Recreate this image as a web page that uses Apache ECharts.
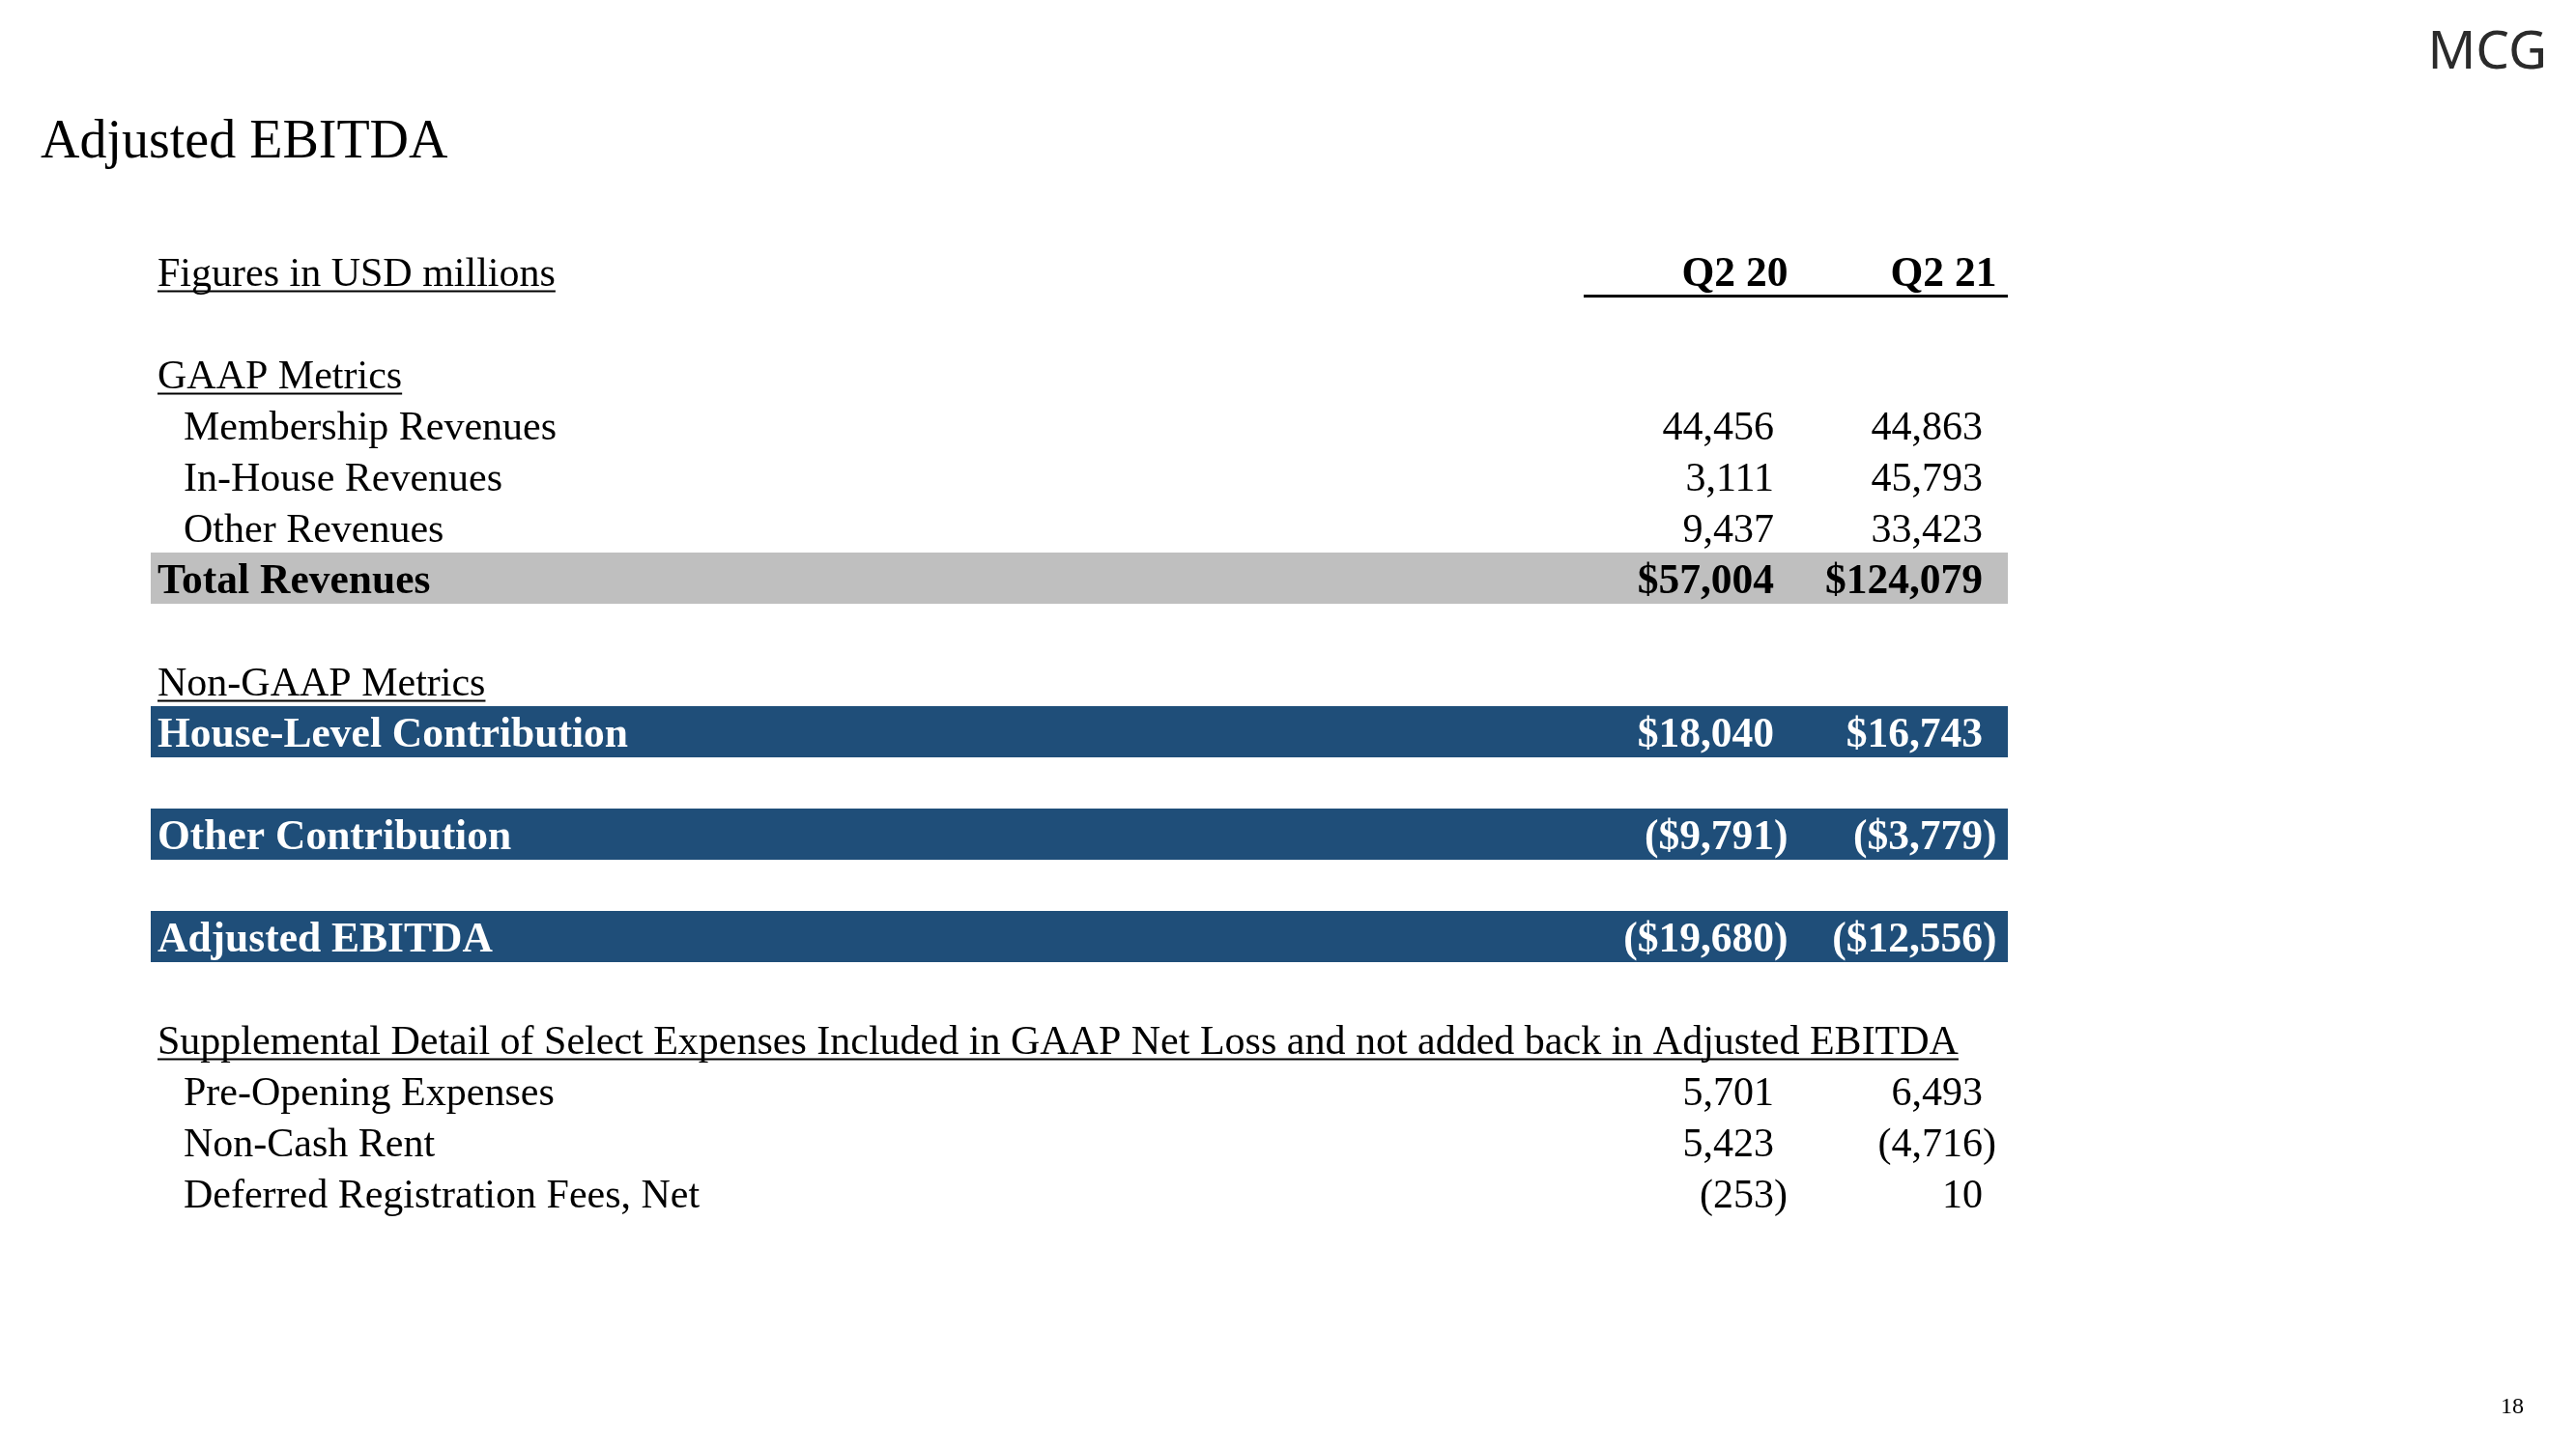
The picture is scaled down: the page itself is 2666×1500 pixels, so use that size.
<!DOCTYPE html>
<html>
<head>
<meta charset="utf-8">
<script src="https://cdn.jsdelivr.net/npm/echarts/dist/echarts.min.js"></script>
<style>
html,body{margin:0;padding:0;background:#ffffff;}
#chart{width:2666px;height:1500px;}
</style>
</head>
<body>
<div id="chart"></div>
<script>
// ---------------- DATA ----------------
const titleText = 'Adjusted EBITDA';
const logoText = 'MCG';
const pageNumber = '18';
const columnHeaders = ['Q2 20', 'Q2 21'];
const rowLabels = [
  'Figures in USD millions',
  '',
  'GAAP Metrics',
  'Membership Revenues',
  'In-House Revenues',
  'Other Revenues',
  'Total Revenues',
  '',
  'Non-GAAP Metrics',
  'House-Level Contribution',
  '',
  'Other Contribution',
  '',
  'Adjusted EBITDA',
  '',
  'Supplemental Detail of Select Expenses Included in GAAP Net Loss and not added back in Adjusted EBITDA',
  'Pre-Opening Expenses',
  'Non-Cash Rent',
  'Deferred Registration Fees, Net',
  ''
];
// semantic row kinds
const rowTypes = [
  'header', 'blank', 'section', 'item', 'item', 'item', 'total', 'blank', 'section', 'key',
  'blank', 'key', 'blank', 'key', 'blank', 'section', 'item', 'item', 'item', 'blank'
];
const q220Values = [null, null, null, 44456, 3111, 9437, 57004, null, null, 18040, null, -9791, null, -19680, null, null, 5701, 5423, -253, null];
const q221Values = [null, null, null, 44863, 45793, 33423, 124079, null, null, 16743, null, -3779, null, -12556, null, null, 6493, -4716, 10, null];

// ---------------- LAYOUT / STYLE ----------------
const FONT = 'Liberation Serif';
const FS = 42;
const FS_BOLD = 43.5;
const TEXT_DY = 4;
const LABEL_X = 163;
const INDENT_X = 190;
const COL_RIGHT = [1836, 2052];
const BAND_L = 156;
const BAND_R = 2078;
const HDR_LINE_L = 1639;
const GREY = '#BFBFBF';
const BLUE = '#1F4E79';

const mctx = document.createElement('canvas').getContext('2d');
function textWidth(t, bold) {
  mctx.font = (bold ? 'bold ' : '') + (bold ? FS_BOLD : FS) + 'px "' + FONT + '"';
  return mctx.measureText(t).width;
}
function fmt(v, dollar) {
  const s = (dollar ? '$' : '') + Math.abs(v).toLocaleString('en-US');
  return v < 0 ? '(' + s + ')' : s;
}
function txt(text, x, y, opt) {
  return {
    type: 'text',
    style: {
      text: text, x: x, y: y + TEXT_DY,
      fill: opt.fill || '#000000',
      fontSize: opt.bold ? FS_BOLD : FS,
      fontFamily: FONT,
      fontWeight: opt.bold ? 'bold' : 'normal',
      align: opt.align || 'left',
      verticalAlign: 'middle'
    }
  };
}

const chart = echarts.init(document.getElementById('chart'), null, {renderer: 'canvas'});

function renderItem(params, api) {
  const i = params.dataIndex;
  const type = rowTypes[i];
  const cy = api.coord([0, i])[1];
  const h = api.size([0, 1])[1];
  const X = v => api.coord([v, i])[0];
  const children = [];
  if (type === 'blank') return {type: 'group', children: []};

  const bold = (type === 'total' || type === 'key');
  const fill = type === 'key' ? '#FFFFFF' : '#000000';

  if (type === 'total' || type === 'key') {
    children.push({
      type: 'rect',
      shape: {x: X(BAND_L), y: cy - h / 2, width: X(BAND_R) - X(BAND_L), height: h},
      style: {fill: type === 'total' ? GREY : BLUE}
    });
  }

  const lx = type === 'item' ? X(INDENT_X) : X(LABEL_X);
  children.push(txt(rowLabels[i], lx, cy, {bold: bold, fill: fill}));

  if (type === 'header' || type === 'section') {
    const w = textWidth(rowLabels[i], false);
    children.push({
      type: 'line',
      shape: {x1: lx, y1: cy + 21, x2: lx + w, y2: cy + 21},
      style: {stroke: '#000000', lineWidth: 2}
    });
  }

  const parenW = textWidth(')', bold);
  if (type === 'header') {
    columnHeaders.forEach((hd, k) => {
      children.push(txt(hd, X(COL_RIGHT[k]) + textWidth(')', true), cy, {bold: true, align: 'right'}));
    });
    children.push({
      type: 'line',
      shape: {x1: X(HDR_LINE_L), y1: cy + 26, x2: X(BAND_R), y2: cy + 26},
      style: {stroke: '#000000', lineWidth: 3}
    });
  }

  const vals = [q220Values[i], q221Values[i]];
  const dollar = (type === 'total' || type === 'key');
  vals.forEach((v, k) => {
    if (v === null || v === undefined) return;
    const rx = X(COL_RIGHT[k]) + (v < 0 ? parenW : 0);
    children.push(txt(fmt(v, dollar), rx, cy, {bold: bold, fill: fill, align: 'right'}));
  });

  return {type: 'group', children: children};
}

const option = {
  backgroundColor: '#ffffff',
  animation: false,
  title: {
    text: titleText,
    left: 42,
    top: 120,
    padding: 0,
    textStyle: {fontFamily: FONT, fontSize: 56, fontWeight: 'normal', color: '#000000', lineHeight: 56}
  },
  grid: {left: 0, right: 0, top: 254, height: 53 * rowLabels.length},
  xAxis: {type: 'value', min: 0, max: 2666, show: false},
  yAxis: {type: 'category', data: rowLabels.map((_, i) => String(i)), inverse: true, show: false},
  graphic: [
    {
      type: 'text',
      style: {
        text: logoText, x: 2636, y: 55,
        fill: '#2b2b2b', fontSize: 55, fontFamily: 'Noto Sans', fontWeight: 'normal',
        align: 'right', verticalAlign: 'middle'
      }
    },
    {
      type: 'text',
      style: {
        text: pageNumber, x: 2612, y: 1457,
        fill: '#000000', fontSize: 24, fontFamily: FONT,
        align: 'right', verticalAlign: 'middle'
      }
    }
  ],
  series: [{
    type: 'custom',
    renderItem: renderItem,
    encode: {x: 0, y: 1},
    data: rowLabels.map((_, i) => [0, i]),
    silent: true
  }]
};
chart.setOption(option);
</script>
</body>
</html>
